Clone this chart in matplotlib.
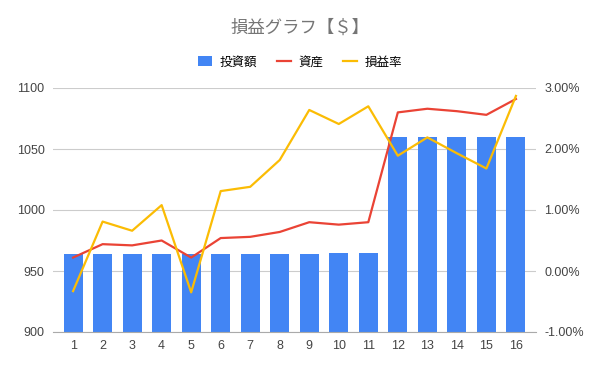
import numpy as np
import matplotlib.pyplot as plt
from matplotlib.ticker import FuncFormatter

plt.rcParams['font.family'] = ['Noto Sans CJK JP', 'DejaVu Sans']

# データ
kaisu = list(range(1, 17))
toushi = [964, 964, 964, 964, 964, 964, 964, 964, 964, 965, 965, 1060, 1060, 1060, 1060, 1060]
shisan = [961, 972, 971, 975, 961, 977, 978, 982, 990, 988, 990, 1080, 1083, 1081, 1078, 1091]
soneki = [-0.33, 0.81, 0.66, 1.08, -0.35, 1.31, 1.38, 1.82, 2.64, 2.41, 2.70, 1.89, 2.19, 1.93, 1.68, 2.87]

fig = plt.figure(figsize=(6, 3.71), dpi=100)
ax = fig.add_axes([53 / 600, 1 - 332 / 371, 483 / 600, 244 / 371])
ax2 = ax.twinx()

b = ax.bar(kaisu, [t - 900 for t in toushi], bottom=900, width=0.64, color='#4285f4', label='投資額', zorder=2)
l1, = ax.plot(kaisu, shisan, color='#ea4335', lw=1.6, label='資産', zorder=3)
l2, = ax2.plot(kaisu, soneki, color='#fbbc04', lw=1.6, label='損益率', zorder=3)

ax.set_ylim(900, 1100)
ax.set_yticks([900, 950, 1000, 1050, 1100])
ax2.set_ylim(-1, 3)
ax2.set_yticks([-1, 0, 1, 2, 3])
ax2.yaxis.set_major_formatter(FuncFormatter(lambda v, p: '%.2f%%' % v))
ax.set_xlim(0.32, 16.68)
ax.set_xticks(kaisu)

ax.grid(axis='y', color='#cccccc', lw=0.8, zorder=0)
ax.set_axisbelow(True)
for a in (ax, ax2):
    for s in a.spines.values():
        s.set_visible(False)
    a.tick_params(length=0, labelsize=9, colors='#444444', pad=6)
    for t in a.get_xticklabels() + a.get_yticklabels():
        t.set_fontfamily('Liberation Sans')
ax.spines['bottom'].set_visible(True)
ax.spines['bottom'].set_color('#aaaaaa')
ax.tick_params(axis='x', pad=6)

fig.text(0.5, 1 - 28 / 371, '損益グラフ【＄】', ha='center', va='center', fontsize=12.5, color='#757575')
fig.legend([b, l1, l2], ['投資額', '資産', '損益率'], loc='center', bbox_to_anchor=(0.5, 1 - 62 / 371),
           ncol=3, frameon=False, fontsize=9, handlelength=1.1, handleheight=0.9, columnspacing=1.6,
           handletextpad=0.6)

fig.savefig('out.png', dpi=100)
